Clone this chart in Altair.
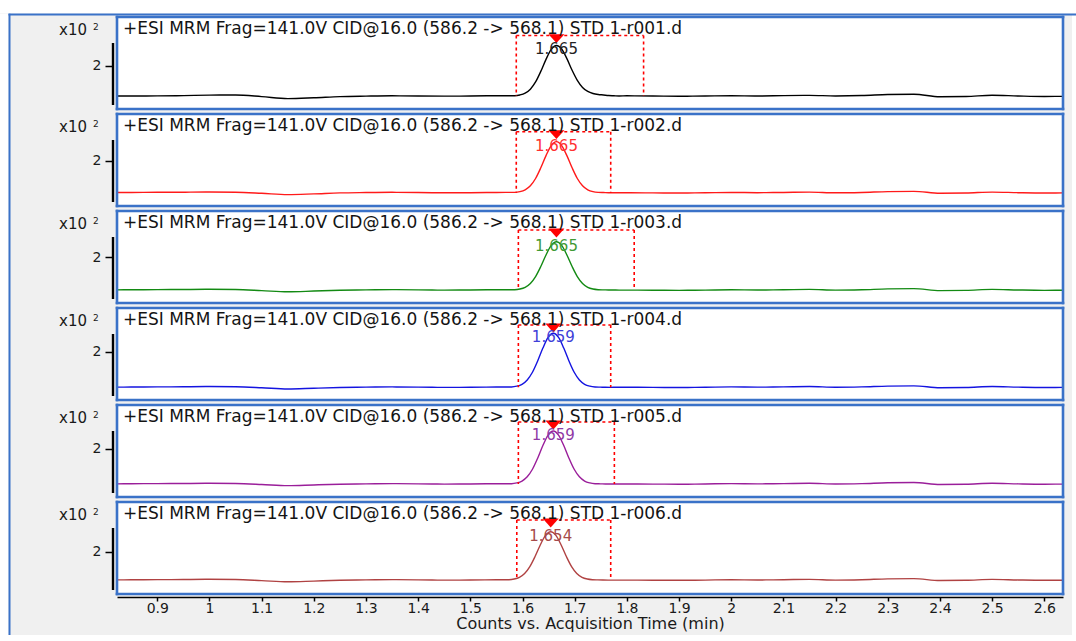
import altair as alt
import pandas as pd

FONT = "DejaVu Sans"
BLUE = "#3a72c8"
BG = "#f0f0f0"
DASH_RED = "#ff0000"

PANEL_W = 946
PANEL_H = 92

X_DOMAIN = [0.8228, 2.6358]
X_TICKS = [0.9, 1.0, 1.1, 1.2, 1.3, 1.4, 1.5, 1.6, 1.7, 1.8, 1.9, 2.0,
           2.1, 2.2, 2.3, 2.4, 2.5, 2.6]

FILES = ["1-r001.d", "1-r002.d", "1-r003.d", "1-r004.d", "1-r005.d", "1-r006.d"]
TITLE_PREFIX = "+ESI MRM Frag=141.0V CID@16.0 (586.2 -> 568.1) STD "

TRACE_COLORS = ["#000000", "#ff1a1a", "#138a13", "#1414e0", "#9a1e9a", "#b04242"]
LABEL_COLORS = ["#222222", "#ff3030", "#3f9a35", "#4040d8", "#8f3aa6", "#a64a4a"]

# retention time (min) of each peak apex
APEX = [1.665, 1.665, 1.665, 1.659, 1.659, 1.654]
# integration window start / end (min)
INT_START = [1.588, 1.588, 1.592, 1.592, 1.592, 1.589]
INT_END = [1.832, 1.769, 1.814, 1.769, 1.776, 1.769]
# integration window top and baseline levels (x10^2 counts)
INT_TOP = [2.508, 2.488, 2.450, 2.450, 2.450, 2.528]
INT_BASE = [1.500, 1.472, 1.450, 1.412, 1.417, 1.528]
# y range of each panel (x10^2 counts)
Y_LO = [1.283, 1.250, 1.233, 1.200, 1.200, 1.295]
Y_HI = [2.817, 2.783, 2.767, 2.733, 2.733, 2.828]

# sampling times of the chromatograms (min)
BASE_T_LEFT = [0.823, 0.85, 0.90, 0.95, 1.00, 1.05, 1.10, 1.15, 1.20, 1.25,
               1.30, 1.35, 1.40, 1.45, 1.50, 1.55]
BASE_T_RIGHT = [1.80, 1.85, 1.90, 1.95, 2.00, 2.05, 2.10, 2.15, 2.20, 2.25,
                2.30, 2.35, 2.40, 2.45, 2.50, 2.55, 2.60, 2.636]
PEAK_T_1665 = [1.585, 1.595, 1.605, 1.615, 1.625, 1.635, 1.645, 1.655, 1.665,
               1.675, 1.685, 1.695, 1.705, 1.715, 1.725, 1.735, 1.745, 1.755,
               1.765, 1.775, 1.785]
PEAK_T_1659 = [1.579, 1.589, 1.599, 1.609, 1.619, 1.629, 1.639, 1.649, 1.659,
               1.669, 1.679, 1.689, 1.699, 1.709, 1.719, 1.729, 1.739, 1.749,
               1.759, 1.769, 1.779]
PEAK_T_1654 = [1.574, 1.584, 1.594, 1.604, 1.614, 1.624, 1.634, 1.644, 1.654,
               1.664, 1.674, 1.684, 1.694, 1.704, 1.714, 1.724, 1.734, 1.744,
               1.754, 1.764, 1.774]
PEAK_TIMES = [PEAK_T_1665, PEAK_T_1665, PEAK_T_1665, PEAK_T_1659, PEAK_T_1659, PEAK_T_1654]

# intensities (x10^2 counts)
R001_LEFT = [1.500, 1.500, 1.502, 1.506, 1.514, 1.516, 1.490, 1.456, 1.470, 1.490,
             1.498, 1.503, 1.500, 1.497, 1.500, 1.504]
R001_PEAK = [1.505, 1.517, 1.547, 1.614, 1.734, 1.910, 2.111, 2.277, 2.342, 2.283,
             2.123, 1.929, 1.761, 1.643, 1.576, 1.542, 1.525, 1.517, 1.508, 1.504, 1.500]
R001_RIGHT = [1.503, 1.500, 1.496, 1.500, 1.505, 1.500, 1.506, 1.510, 1.501, 1.507,
              1.524, 1.530, 1.488, 1.492, 1.512, 1.500, 1.492, 1.494]

R002_LEFT = [1.474, 1.476, 1.478, 1.480, 1.484, 1.480, 1.462, 1.440, 1.452, 1.468,
             1.474, 1.478, 1.474, 1.470, 1.472, 1.476]
R002_PEAK = [1.477, 1.489, 1.520, 1.587, 1.708, 1.886, 2.089, 2.257, 2.322, 2.257,
             2.089, 1.886, 1.708, 1.587, 1.520, 1.489, 1.477, 1.474, 1.472, 1.471, 1.470]
R002_RIGHT = [1.472, 1.468, 1.466, 1.470, 1.476, 1.472, 1.476, 1.482, 1.470, 1.476,
              1.490, 1.494, 1.462, 1.466, 1.482, 1.472, 1.466, 1.468]

R003_LEFT = [1.452, 1.454, 1.456, 1.458, 1.462, 1.458, 1.440, 1.420, 1.432, 1.446,
             1.452, 1.456, 1.452, 1.448, 1.450, 1.454]
R003_PEAK = [1.455, 1.466, 1.495, 1.559, 1.674, 1.842, 2.034, 2.193, 2.255, 2.193,
             2.034, 1.842, 1.674, 1.559, 1.495, 1.466, 1.455, 1.452, 1.450, 1.449, 1.448]
R003_RIGHT = [1.448, 1.446, 1.444, 1.448, 1.454, 1.450, 1.454, 1.460, 1.448, 1.454,
              1.468, 1.472, 1.440, 1.444, 1.460, 1.450, 1.444, 1.446]

R004_LEFT = [1.414, 1.416, 1.418, 1.420, 1.424, 1.420, 1.404, 1.384, 1.396, 1.408,
             1.414, 1.418, 1.414, 1.410, 1.412, 1.416]
R004_PEAK = [1.417, 1.430, 1.462, 1.534, 1.662, 1.850, 2.065, 2.243, 2.312, 2.243,
             2.065, 1.850, 1.662, 1.534, 1.462, 1.430, 1.417, 1.414, 1.412, 1.411, 1.412]
R004_RIGHT = [1.412, 1.410, 1.408, 1.412, 1.418, 1.414, 1.418, 1.424, 1.412, 1.418,
              1.432, 1.436, 1.404, 1.408, 1.424, 1.414, 1.408, 1.410]

R005_LEFT = [1.419, 1.421, 1.423, 1.425, 1.429, 1.425, 1.409, 1.389, 1.401, 1.413,
             1.419, 1.423, 1.419, 1.415, 1.417, 1.421]
R005_PEAK = [1.422, 1.435, 1.466, 1.536, 1.662, 1.847, 2.058, 2.232, 2.300, 2.232,
             2.058, 1.847, 1.662, 1.536, 1.466, 1.435, 1.422, 1.419, 1.417, 1.416, 1.416]
R005_RIGHT = [1.417, 1.415, 1.413, 1.417, 1.423, 1.419, 1.423, 1.429, 1.417, 1.423,
              1.437, 1.441, 1.409, 1.413, 1.429, 1.419, 1.413, 1.415]

R006_LEFT = [1.530, 1.532, 1.534, 1.536, 1.540, 1.536, 1.518, 1.498, 1.510, 1.524,
             1.530, 1.534, 1.530, 1.526, 1.528, 1.532]
R006_PEAK = [1.533, 1.544, 1.573, 1.637, 1.752, 1.920, 2.112, 2.271, 2.333, 2.271,
             2.112, 1.920, 1.752, 1.637, 1.573, 1.544, 1.533, 1.530, 1.528, 1.527, 1.527]
R006_RIGHT = [1.527, 1.525, 1.523, 1.527, 1.533, 1.529, 1.533, 1.539, 1.527, 1.533,
              1.547, 1.551, 1.519, 1.523, 1.539, 1.529, 1.523, 1.525]

SERIES = [
    (R001_LEFT, R001_PEAK, R001_RIGHT),
    (R002_LEFT, R002_PEAK, R002_RIGHT),
    (R003_LEFT, R003_PEAK, R003_RIGHT),
    (R004_LEFT, R004_PEAK, R004_RIGHT),
    (R005_LEFT, R005_PEAK, R005_RIGHT),
    (R006_LEFT, R006_PEAK, R006_RIGHT),
]

TRIANGLE = "M-1,-0.55L1,-0.55L0,0.55Z"
BORDER = 1.3  # half thickness of the blue panel frame


def band(data, color, x, x2, y, y2):
    """Solid, stroke-free rectangle placed in pixel units of the panel."""
    return alt.Chart(data).mark_rect(color=color, strokeWidth=0).encode(
        x=alt.value(x), x2=alt.value(x2), y=alt.value(y), y2=alt.value(y2)
    )


def panel(i, first, last):
    left, peak, right = SERIES[i]
    trace = pd.DataFrame({
        "t": BASE_T_LEFT + PEAK_TIMES[i] + BASE_T_RIGHT,
        "v": left + peak + right,
    })
    info = pd.DataFrame({
        "start": [INT_START[i]], "end": [INT_END[i]],
        "top": [INT_TOP[i]], "base": [INT_BASE[i]],
        "apex": [APEX[i]], "peak": [max(peak)],
        "label": [f"{APEX[i]:.3f}"],
    })
    edges = pd.DataFrame({
        "t": [INT_START[i], INT_END[i]],
        "top": [INT_TOP[i]] * 2, "base": [INT_BASE[i]] * 2,
    })

    xs = alt.Scale(domain=X_DOMAIN, nice=False, zero=False)
    ys = alt.Scale(domain=[Y_LO[i], Y_HI[i]], nice=False, zero=False)

    if last:
        x_axis = alt.Axis(values=X_TICKS, format="~g", grid=False, offset=3,
                          domainColor="black", domainWidth=1.5, tickColor="black",
                          tickWidth=1.5, tickSize=4, labelFontSize=14, labelFont=FONT,
                          labelColor="#1a1a1a", labelPadding=0, labelFlush=False,
                          title="Counts vs. Acquisition Time (min)", titleFont=FONT,
                          titleFontSize=16, titleFontWeight="normal",
                          titleColor="#1a1a1a", titlePadding=0)
    else:
        x_axis = None
    y_axis = alt.Axis(values=[2], format="d", grid=False, domain=False, offset=4,
                      tickColor="black", tickWidth=1.5, tickSize=8, labelFontSize=14,
                      labelFont=FONT, labelColor="#1a1a1a", labelPadding=4, title=None)

    def X(field):
        return alt.X(field, type="quantitative", scale=xs, axis=x_axis)

    def Y(field):
        return alt.Y(field, type="quantitative", scale=ys, axis=y_axis)

    line = alt.Chart(trace).mark_line(
        color=TRACE_COLORS[i], strokeWidth=1.4, interpolate="monotone"
    ).encode(x=X("t"), y=Y("v"))

    verticals = alt.Chart(edges).mark_rule(
        color=DASH_RED, strokeDash=[3, 3], strokeWidth=1.6
    ).encode(x=X("t"), y=Y("top"), y2="base:Q")

    top_line = alt.Chart(info).mark_rule(
        color=DASH_RED, strokeDash=[3, 3], strokeWidth=1.6
    ).encode(x=X("start"), x2="end:Q", y=Y("top"))

    marker = alt.Chart(info).mark_point(
        shape=TRIANGLE, filled=True, color=DASH_RED, opacity=1, size=256,
        strokeWidth=0, yOffset=3
    ).encode(x=X("apex"), y=Y("top"))

    label = alt.Chart(info).mark_text(
        color=LABEL_COLORS[i], font=FONT, fontSize=15, baseline="middle", dy=4
    ).encode(x=X("apex"), y=Y("peak"), text="label:N")

    title = alt.Chart(info).mark_text(
        text=TITLE_PREFIX + FILES[i], font=FONT, fontSize=17, align="left",
        baseline="alphabetic", color="#141414"
    ).encode(x=alt.value(6), y=alt.value(17))

    exp_base = alt.Chart(info).mark_text(
        text="x10", font=FONT, fontSize=15, align="right", baseline="alphabetic",
        color="#1a1a1a"
    ).encode(x=alt.value(-30), y=alt.value(18))
    exp_pow = alt.Chart(info).mark_text(
        text="2", font=FONT, fontSize=9, align="left", baseline="alphabetic",
        color="#1a1a1a"
    ).encode(x=alt.value(-24), y=alt.value(13))

    # y-axis spine
    y_line = band(info, "black", -5.2, -2.8, 26, 88)

    # blue frame of the plot area
    b = BORDER
    frame = [
        band(info, BLUE, -b, PANEL_W + b, -b, b),
        band(info, BLUE, -b, PANEL_W + b, PANEL_H - b, PANEL_H + b),
        band(info, BLUE, -b, b, -b, PANEL_H + b),
        band(info, BLUE, PANEL_W - b, PANEL_W + b, -b, PANEL_H + b),
    ]

    # page margins and the outer frame of the report
    bottom = 139 if last else 94
    frame_top = -3.5 if first else -3
    frame_bottom = 133 if last else 94
    layers = [
        band(info, "white", -117, -108.5, -3, bottom),
        band(info, "white", 955, 959, -3, bottom),
        band(info, BLUE, -108.5, -106.5, frame_top, frame_bottom),
        y_line, line, verticals, top_line, marker, label, title, exp_base, exp_pow,
    ] + frame
    if first:
        layers.append(band(info, "white", -117, 959, -17, -3.5))
        layers.append(band(info, BLUE, -108.5, 959, -3.5, -1.5))
    if last:
        layers.append(band(info, "white", -117, 959, 133, 139))
    return alt.layer(*layers).properties(width=PANEL_W, height=PANEL_H)


n = len(FILES)
panels = [panel(i, i == 0, i == n - 1) for i in range(n)]

chart = alt.vconcat(*panels, spacing=0).resolve_scale(
    x="independent", y="independent"
).properties(
    background=BG, padding=0
).configure_view(
    stroke="transparent", strokeWidth=0, fill="white"
)

chart.save("out.html", embed_options={"renderer": "svg", "actions": False})
